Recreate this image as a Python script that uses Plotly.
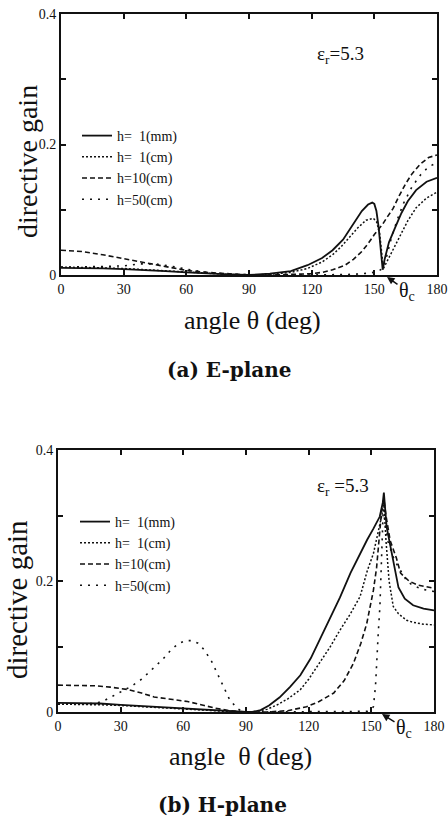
import plotly.graph_objects as go

W, H = 448, 818

# ---------------- data: E-plane ----------------
e_1mm_theta = [0, 10, 20, 30, 40, 50, 60, 70, 80, 90, 100, 110, 118, 125, 130, 135, 140, 144, 147, 149, 150, 151, 152, 153, 154, 155, 157, 160, 163, 166, 170, 175, 180]
e_1mm_gain = [0.011, 0.011, 0.010, 0.009, 0.008, 0.006, 0.004, 0.002, 0.001, 0.0, 0.002, 0.006, 0.015, 0.026, 0.038, 0.054, 0.078, 0.098, 0.108, 0.111, 0.109, 0.098, 0.075, 0.045, 0.008, 0.025, 0.050, 0.073, 0.095, 0.113, 0.130, 0.143, 0.149]

e_1cm_theta = [0, 10, 20, 30, 40, 50, 60, 70, 80, 90, 100, 110, 118, 125, 130, 134, 138, 142, 146, 149.5, 151, 152.5, 153.5, 154.3, 155, 157, 160, 163, 166, 170, 175, 180]
e_1cm_gain = [0.012, 0.012, 0.011, 0.010, 0.008, 0.006, 0.004, 0.002, 0.001, 0.0, 0.001, 0.004, 0.010, 0.020, 0.031, 0.043, 0.057, 0.072, 0.084, 0.087, 0.082, 0.065, 0.035, 0.010, 0.014, 0.027, 0.046, 0.066, 0.083, 0.103, 0.118, 0.127]

e_10cm_theta = [0, 10, 20, 30, 40, 50, 60, 70, 80, 90, 100, 110, 120, 125, 130, 136, 140, 144, 147, 150, 152, 154, 156, 159, 162, 165, 168, 172, 176, 180]
e_10cm_gain = [0.038, 0.036, 0.031, 0.025, 0.018, 0.012, 0.007, 0.004, 0.002, 0.0, 0.0, 0.001, 0.002, 0.004, 0.008, 0.015, 0.024, 0.036, 0.048, 0.062, 0.070, 0.078, 0.088, 0.102, 0.122, 0.140, 0.155, 0.170, 0.180, 0.184]

e_50cm_theta = [0, 10, 20, 30, 38, 45, 52, 60, 70, 80, 90, 100, 120, 140, 148, 152, 154, 156, 158, 161, 164, 168, 172, 176, 180]
e_50cm_gain = [0.012, 0.012, 0.013, 0.014, 0.017, 0.017, 0.014, 0.009, 0.004, 0.001, 0.0, 0.0, 0.0, 0.001, 0.003, 0.006, 0.010, 0.030, 0.055, 0.085, 0.110, 0.135, 0.153, 0.166, 0.172]

# ---------------- data: H-plane ----------------
h_1mm_theta = [0, 10, 20, 30, 40, 50, 60, 70, 80, 90, 93, 97, 101, 106, 111, 116, 121, 125, 130, 135, 140, 145, 148, 151, 154, 155.5, 156, 157.3, 160.5, 163, 166, 170, 175, 180]
h_1mm_gain = [0.014, 0.014, 0.013, 0.011, 0.009, 0.007, 0.005, 0.003, 0.001, 0.0, 0.0, 0.003, 0.010, 0.022, 0.038, 0.056, 0.082, 0.108, 0.140, 0.175, 0.212, 0.245, 0.263, 0.280, 0.298, 0.320, 0.335, 0.283, 0.232, 0.190, 0.173, 0.163, 0.158, 0.155]

h_1cm_theta = [0, 10, 20, 30, 40, 50, 60, 70, 80, 90, 95, 100, 105, 110, 116, 120, 125, 130, 135, 140, 144.6, 148, 151, 153, 155, 156, 157, 158.5, 160.5, 163, 166.9, 170, 175, 180]
h_1cm_gain = [0.012, 0.012, 0.011, 0.010, 0.008, 0.006, 0.004, 0.002, 0.001, 0.0, 0.001, 0.004, 0.011, 0.020, 0.034, 0.050, 0.073, 0.098, 0.125, 0.150, 0.176, 0.215, 0.242, 0.270, 0.300, 0.320, 0.262, 0.200, 0.161, 0.150, 0.140, 0.137, 0.134, 0.133]

h_10cm_theta = [0, 10, 18, 25, 34, 40, 46, 55, 62, 70, 75, 82, 90, 100, 110, 119, 125, 132, 137, 141.4, 145, 147.8, 151, 152.5, 154, 155, 156, 157, 159, 162, 164, 168, 172, 176, 180]
h_10cm_gain = [0.041, 0.041, 0.040, 0.038, 0.034, 0.029, 0.023, 0.019, 0.016, 0.010, 0.006, 0.002, 0.0, 0.0, 0.002, 0.008, 0.016, 0.029, 0.048, 0.074, 0.105, 0.135, 0.186, 0.220, 0.280, 0.310, 0.325, 0.300, 0.262, 0.235, 0.212, 0.200, 0.194, 0.191, 0.189]

h_50cm_theta = [0, 10, 18, 22.5, 28, 35, 40, 44.8, 50, 54.4, 58, 61, 64, 67, 70, 73.6, 76, 79, 82, 85.5, 88, 90, 100, 120, 140, 148, 150, 151, 152, 152.6, 153.3, 154.1, 155, 155.7, 156.5, 158, 161, 164, 167, 170, 175, 180]
h_50cm_gain = [0.012, 0.012, 0.013, 0.018, 0.027, 0.039, 0.050, 0.064, 0.080, 0.096, 0.105, 0.109, 0.109, 0.105, 0.095, 0.077, 0.060, 0.039, 0.020, 0.006, 0.001, 0.0, 0.0, 0.0, 0.0, 0.001, 0.004, 0.008, 0.040, 0.084, 0.120, 0.161, 0.240, 0.310, 0.290, 0.260, 0.232, 0.215, 0.200, 0.193, 0.187, 0.184]

series_names = ["h=\u00a0\u00a01(mm)", "h=\u00a0\u00a01(cm)", "h=10(cm)", "h=50(cm)"]
x_ticks = [0, 30, 60, 90, 120, 150, 180]
x_ticktext = ["0", "30", "60", "90", "120", "150", "180"]
y_ticks = [0, 0.2, 0.4]
y_ticktext = ["0", "0.2", "0.4"]

styles = [
    dict(dash="solid", width=1.8),
    dict(dash="2px,2px", width=1.5),
    dict(dash="5px,3px", width=1.6),
    dict(dash="2px,6px", width=1.6),
]

SERIF = "Liberation Serif"
INK = "#111111"

fig = go.Figure()

e_sets = [(e_1mm_theta, e_1mm_gain), (e_1cm_theta, e_1cm_gain), (e_10cm_theta, e_10cm_gain), (e_50cm_theta, e_50cm_gain)]
h_sets = [(h_1mm_theta, h_1mm_gain), (h_1cm_theta, h_1cm_gain), (h_10cm_theta, h_10cm_gain), (h_50cm_theta, h_50cm_gain)]

for i, (tx, gy) in enumerate(e_sets):
    fig.add_trace(go.Scatter(x=tx, y=gy, mode="lines", name=series_names[i],
                             line=dict(color=INK, **styles[i]), xaxis="x", yaxis="y",
                             legend="legend"))
for i, (tx, gy) in enumerate(h_sets):
    fig.add_trace(go.Scatter(x=tx, y=gy, mode="lines", name=series_names[i],
                             line=dict(color=INK, **styles[i]), xaxis="x2", yaxis="y2",
                             legend="legend2"))

def px(x):
    return x / W

def py(y):
    return 1 - y / H

axis_common = dict(showline=True, linecolor=INK, linewidth=2, mirror="ticks",
                   ticks="inside", ticklen=5, tickwidth=1.5, tickcolor=INK,
                   showgrid=False, zeroline=False,
                   tickfont=dict(family=SERIF, size=14, color=INK))
y_minor = dict(ticks="inside", ticklen=5, tickwidth=1.5, tickcolor=INK, tick0=0, dtick=0.1, showgrid=False)

fig.update_layout(
    width=W, height=H, margin=dict(l=0, r=0, t=0, b=0),
    paper_bgcolor="white", plot_bgcolor="white", template="none",
    xaxis=dict(domain=[px(61), px(437)], range=[0, 180], anchor="y",
               tickvals=x_ticks, ticktext=x_ticktext, **axis_common),
    yaxis=dict(domain=[py(275), py(14)], range=[0, 0.4], anchor="x",
               tickvals=y_ticks, ticktext=y_ticktext, minor=y_minor, **axis_common),
    xaxis2=dict(domain=[px(58), px(434)], range=[0, 180], anchor="y2",
                tickvals=x_ticks, ticktext=x_ticktext, **axis_common),
    yaxis2=dict(domain=[py(712), py(450)], range=[0, 0.4], anchor="x2",
                tickvals=y_ticks, ticktext=y_ticktext, minor=y_minor, **axis_common),
    legend=dict(x=px(77), y=py(120), xanchor="left", yanchor="top",
                bgcolor="rgba(0,0,0,0)", itemwidth=30, tracegroupgap=0,
                font=dict(family=SERIF, size=14, color=INK)),
    legend2=dict(x=px(75), y=py(506), xanchor="left", yanchor="top",
                 bgcolor="rgba(0,0,0,0)", itemwidth=30, tracegroupgap=0,
                 font=dict(family=SERIF, size=14, color=INK)),
    showlegend=True,
)

def txt(x, y, text, size, angle=0, bold=False, family=SERIF):
    fig.add_annotation(xref="paper", yref="paper", x=px(x), y=py(y), text=text,
                       showarrow=False, textangle=angle, xanchor="center", yanchor="middle",
                       font=dict(family=family, size=size, color=INK,
                                 weight="bold" if bold else "normal"))

txt(28, 162, "directive gain", 28, angle=-90)
txt(17, 600, "directive gain", 29, angle=-90)
txt(252, 320, "angle \u03b8 (deg)", 26)
txt(240, 756, "angle \u00a0\u03b8 (deg)", 26)
txt(229, 370, "(a) E-plane", 20, bold=True, family="DejaVu Serif")
txt(222, 805, "(b) H-plane", 20, bold=True, family="DejaVu Serif")
txt(340, 55, "\u03b5<sub>r</sub>=5.3", 19)
txt(343, 487, "\u03b5<sub>r</sub> =5.3", 19)

# theta_c markers with arrows (paper-referenced so they are not hidden off-axis)
def theta_c(tipx, tipy, dx, dy):
    fig.add_annotation(xref="paper", yref="paper", x=px(tipx), y=py(tipy), ax=dx, ay=dy,
                       axref="pixel", ayref="pixel",
                       text="\u03b8<sub>c</sub>", showarrow=True, arrowhead=2, arrowsize=1,
                       arrowwidth=1.5, arrowcolor=INK, standoff=0,
                       font=dict(family=SERIF, size=20, color=INK))

theta_c(387, 277, 20, 14)
theta_c(382, 714, 22, 14)

fig.write_html("out.html", config={"displayModeBar": False},
               post_script="document.body.style.margin='0px';document.body.style.overflow='hidden';")
